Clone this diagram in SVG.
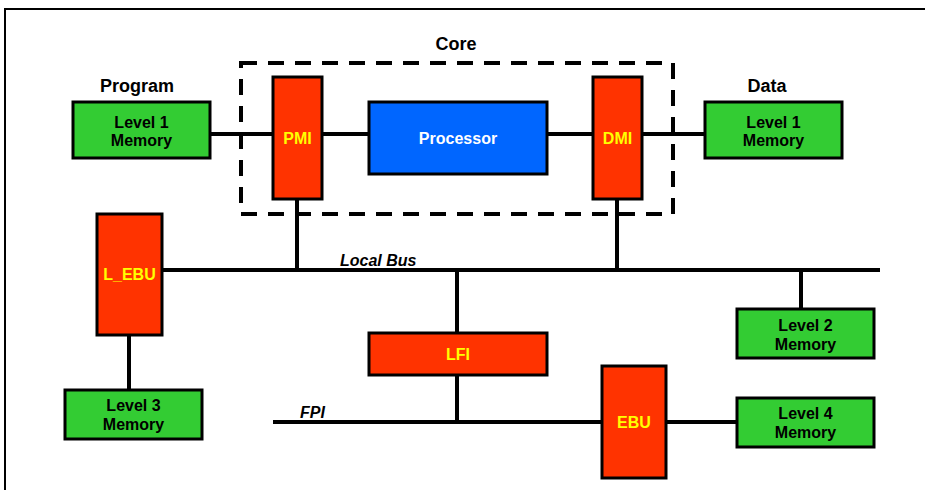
<svg xmlns="http://www.w3.org/2000/svg" width="925" height="490" viewBox="0 0 925 490">
<style>
text{font-family:"Liberation Sans",Arial,sans-serif;font-weight:bold;font-size:16px;text-anchor:middle}
.t{font-size:18px;fill:#000}
.mem{fill:#33CC33;stroke:#000;stroke-width:3}
.red{fill:#FF3300;stroke:#000;stroke-width:3}
.blue{fill:#0066FF;stroke:#000;stroke-width:3}
.yt{fill:#FFFF00}
.bt{fill:#000}
.wt{fill:#FFFFFF}
.ln{stroke:#000;stroke-width:4;fill:none}
.it{font-style:italic;text-anchor:start;font-size:16px}
</style>
<rect width="925" height="490" fill="#FFFFFF"/>
<path d="M5,490 V9 H925" fill="none" stroke="#000" stroke-width="2"/>
<g id="core">
<rect x="241" y="63" width="432" height="151" fill="none" stroke="#000" stroke-width="4" stroke-dasharray="16 11"/>
<text class="t" x="456" y="50">Core</text>
</g>
<g id="connectors">
<line class="ln" x1="210" y1="134" x2="273" y2="134"/>
<line class="ln" x1="322" y1="134" x2="369" y2="134"/>
<line class="ln" x1="547" y1="134" x2="593" y2="134"/>
<line class="ln" x1="642" y1="134" x2="705" y2="134"/>
<line class="ln" x1="162" y1="270" x2="880" y2="270"/>
<line class="ln" x1="297" y1="199" x2="297" y2="270"/>
<line class="ln" x1="617" y1="199" x2="617" y2="270"/>
<line class="ln" x1="457" y1="270" x2="457" y2="333"/>
<line class="ln" x1="457" y1="375" x2="457" y2="422"/>
<line class="ln" x1="801" y1="270" x2="801" y2="309"/>
<line class="ln" x1="129" y1="335" x2="129" y2="390"/>
<line class="ln" x1="273" y1="422" x2="602" y2="422"/>
<line class="ln" x1="666" y1="422" x2="737" y2="422"/>
<text class="it" x="340" y="266">Local Bus</text>
<text class="it" x="300" y="418">FPI</text>
</g>
<g id="program-l1">
<text class="t" x="137" y="92">Program</text>
<rect class="mem" x="73" y="102" width="137" height="56"/>
<text class="bt" x="141.5" y="128">Level 1</text>
<text class="bt" x="141.5" y="146">Memory</text>
</g>
<g id="pmi">
<rect class="red" x="273" y="77" width="49" height="122"/>
<text class="yt" x="297.5" y="144">PMI</text>
</g>
<g id="processor">
<rect class="blue" x="369" y="102" width="178" height="72"/>
<text class="wt" x="458" y="144">Processor</text>
</g>
<g id="dmi">
<rect class="red" x="593" y="77" width="49" height="122"/>
<text class="yt" x="617.5" y="144">DMI</text>
</g>
<g id="data-l1">
<text class="t" x="767" y="92">Data</text>
<rect class="mem" x="705" y="102" width="137" height="56"/>
<text class="bt" x="773.5" y="128">Level 1</text>
<text class="bt" x="773.5" y="146">Memory</text>
</g>
<g id="l-ebu">
<rect class="red" x="97" y="214" width="65" height="121"/>
<text class="yt" x="129.5" y="280">L_EBU</text>
</g>
<g id="l3">
<rect class="mem" x="65" y="390" width="137" height="49"/>
<text class="bt" x="133.5" y="411">Level 3</text>
<text class="bt" x="133.5" y="430">Memory</text>
</g>
<g id="lfi">
<rect class="red" x="369" y="333" width="178" height="42"/>
<text class="yt" x="458" y="360">LFI</text>
</g>
<g id="l2">
<rect class="mem" x="737" y="309" width="137" height="49"/>
<text class="bt" x="805.5" y="331">Level 2</text>
<text class="bt" x="805.5" y="350">Memory</text>
</g>
<g id="ebu">
<rect class="red" x="602" y="366" width="64" height="112"/>
<text class="yt" x="634" y="428">EBU</text>
</g>
<g id="l4">
<rect class="mem" x="737" y="398" width="137" height="49"/>
<text class="bt" x="805.5" y="419">Level 4</text>
<text class="bt" x="805.5" y="438">Memory</text>
</g>
</svg>
